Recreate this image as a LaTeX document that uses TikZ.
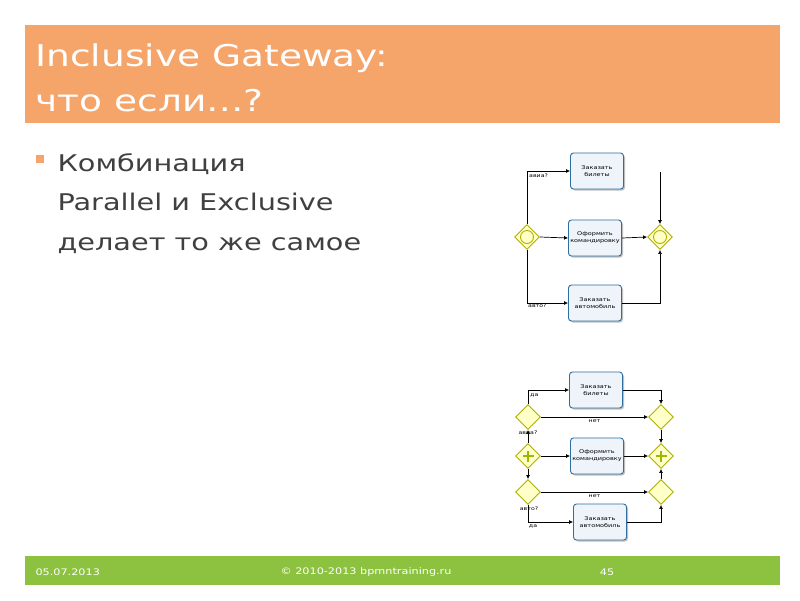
\documentclass[tikz,border=0pt]{standalone}
\usepackage{fontspec}
\setmainfont{DejaVu Sans}[FakeStretch=1.25]
\usetikzlibrary{shapes.geometric,arrows.meta}
\definecolor{hdr}{HTML}{F5A46A}
\definecolor{ftr}{HTML}{8CC23F}
\definecolor{gwf}{HTML}{FFFFC8}
\definecolor{gwd}{HTML}{B0B000}
\definecolor{tkf}{HTML}{EEF4FA}
\definecolor{tkd}{HTML}{2F6E9E}
\tikzset{
 gw/.style={diamond,draw=gwd,fill=gwf,line width=0.9pt,minimum width=25pt,minimum height=25pt,inner sep=0pt},
 task/.style={draw=tkd,fill=tkf,rounded corners=3pt,line width=0.9pt,minimum width=53pt,minimum height=36pt,align=center,font=\fontsize{5.2}{7}\selectfont,inner sep=1pt,
   preaction={fill=black!25,draw=none,transform canvas={shift={(1.5pt,-1.5pt)}}}},
 fl/.style={line width=0.7pt,-{Latex[length=4pt,width=4pt]}},
 lb/.style={font=\fontsize{5}{6}\selectfont,inner sep=0pt}
}
\begin{document}
\begin{tikzpicture}[x=1pt,y=-1pt]
\useasboundingbox (0,0) rectangle (800,600);
\fill[white] (0,0) rectangle (800,600);
\fill[hdr] (25,25) rectangle (780,123);
\node[anchor=west,text=white,font=\fontsize{30}{36}\selectfont] (t1) at (32,58) {Inclusive Gateway:};
\node[anchor=west,text=white,font=\fontsize{30}{36}\selectfont] (t2) at (32,101) {что если…?};
\fill[hdr] (36,155) rectangle (44,163);
\node[anchor=north west,text=black!75,font=\fontsize{23}{39.5}\selectfont,align=left] (bt) at (54,150) {Комбинация\\Parallel и Exclusive\\делает то же самое};
\fill[ftr] (25,556) rectangle (780,585);
\node[anchor=west,text=white,font=\fontsize{9}{11}\selectfont] (f1) at (32,572) {05.07.2013};
\node[text=white,font=\fontsize{9}{11}\selectfont] (f2) at (366,572) {© 2010-2013 bpmntraining.ru};
\node[text=white,font=\fontsize{9}{11}\selectfont] (f3) at (607,572) {45};
% diagram 1
\node[gw] (a) at (527,237) {};
\draw[gwd,line width=0.9pt] (a) circle (6.5pt);
\node[gw] (b) at (660,237) {};
\draw[gwd,line width=0.9pt] (b) circle (6.5pt);
\node[task] (k1) at (597,171) {Заказать\\билеты};
\node[task] (k2) at (595,238) {Оформить\\командировку};
\node[task] (k3) at (595,303) {Заказать\\автомобиль};
\coordinate (c1) at (660,172);
\draw[fl] (a.north) |- (k1.west);
\node[lb,anchor=west] (l1) at (529,176) {авиа?};
\draw[fl] (a.east) -- (k2.west);
\draw[fl] (k2.east) -- (b.west);
\draw[fl] (a.south) |- (k3.west);
\node[lb,anchor=west] (l2) at (528,306) {авто?};
\draw[fl] (k3.east) -| (b.south);
\draw[fl] (c1) -- (b.north);
% diagram 2
\node[gw] (g1) at (528,417) {};
\node[gw] (p1) at (528,456) {};
\node[gw] (g3) at (528,492) {};
\node[gw] (g2) at (661,417) {};
\node[gw] (p2) at (661,456) {};
\node[gw] (g4) at (661,492) {};
\foreach \n in {p1,p2}{\draw[line width=2.6pt,draw=gwd!90!green] ([xshift=-5.5pt]\n.center) -- ([xshift=5.5pt]\n.center) ([yshift=-5.5pt]\n.center) -- ([yshift=5.5pt]\n.center);}
\node[task] (m1) at (596,390) {Заказать\\билеты};
\node[task] (m2) at (597,456) {Оформить\\командировку};
\node[task] (m3) at (600,522) {Заказать\\автомобиль};
\draw[fl] (g1.north) |- (m1.west);
\node[lb,anchor=west] (d1) at (530,395) {да};
\draw[fl] (m1.east) -| (g2.north);
\draw[fl] (g1.east) -- node[lb,below=2pt] (n1) {нет} (g2.west);
\draw[fl] (p1.north) -- (g1.south);
\node[lb] (l3) at (528,433) {авиа?};
\draw[fl] (p1.east) -- (m2.west);
\draw[fl] (m2.east) -- (p2.west);
\draw[fl] (p1.south) -- (g3.north);
\draw[fl] (g3.east) -- node[lb,below=2pt] (n2) {нет} (g4.west);
\draw[fl] (g3.south) |- (m3.west);
\node[lb] (l4) at (529,509) {авто?};
\node[lb] (d2) at (533,526) {да};
\draw[fl] (m3.east) -| (g4.south);
\draw[fl] (g2.south) -- (p2.north);
\draw[fl] (g4.north) -- (p2.south);
\end{tikzpicture}
\end{document}
